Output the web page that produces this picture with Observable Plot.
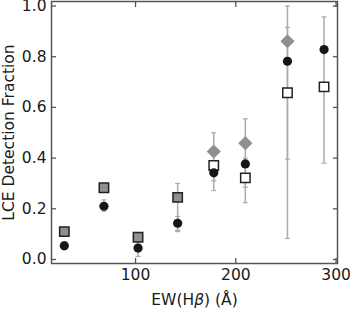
<!DOCTYPE html>
<html>
<head>
<meta charset="utf-8">
<script src="https://cdn.jsdelivr.net/npm/d3@7"></script>
<script src="https://cdn.jsdelivr.net/npm/@observablehq/plot@0.6"></script>
<style>
  html, body { margin: 0; padding: 0; background: #fff; }
  #chart svg { display: block; }
</style>
</head>
<body>
<div id="chart"></div>
<script>
// EW(Hβ) bin centres (Å)
const ew = [29, 68.5, 102.5, 142, 178, 209.5, 251.5, 288];
// black circles
const circleFrac = [0.054, 0.210, 0.045, 0.143, 0.342, 0.377, 0.782, 0.828];
// squares
const squareFrac = [0.110, 0.283, 0.088, 0.245, 0.371, 0.322, 0.658, 0.681];
const squareFilled = [true, true, true, true, false, false, false, false];
// grey diamonds
const diamondFrac = [null, null, null, null, 0.426, 0.459, 0.861, null];
// wide error bars
const errWideLo = [0.095, 0.265, 0.075, 0.110, 0.272, 0.224, 0.083, 0.380];
const errWideHi = [0.125, 0.300, 0.100, 0.300, 0.500, 0.555, 1.000, 0.957];
// narrow error bars
const errNarrowLo = [0.040, 0.190, 0.012, 0.115, 0.310, 0.285, 0.396, null];
const errNarrowHi = [0.070, 0.235, 0.070, 0.170, 0.370, 0.400, 0.916, null];

const yTicks = [0, 0.2, 0.4, 0.6, 0.8, 1.0];
const xTicks = [100, 200, 300];

const rows = ew.map((x, i) => ({
  x, c: circleFrac[i], s: squareFrac[i], sf: squareFilled[i], d: diamondFrac[i],
  wlo: errWideLo[i], whi: errWideHi[i], nlo: errNarrowLo[i], nhi: errNarrowHi[i]
}));
const wideRows = rows;
const narrowRows = rows.filter(r => r.nlo != null);
const diamondRows = rows.filter(r => r.d != null);

const cap = {
  draw(ctx, size) { const w = 2.5; ctx.moveTo(-w, 0); ctx.lineTo(w, 0); }
};

const errColor = "#ababab";
const axisColor = "#555";
const textColor = "#1a1a1a";
const fs = 15.5;

const chart = Plot.plot({
  width: 350,
  height: 310,
  marginLeft: 51,
  marginRight: 13,
  marginTop: 1,
  marginBottom: 47,
  style: { fontFamily: "DejaVu Sans", fontSize: fs + "px", color: textColor, background: "#fff" },
  x: { domain: [16.2, 301.4] },
  y: { domain: [-0.0158, 1.0178] },
  marks: [
    // error bars
    Plot.ruleX(wideRows, { x: "x", y1: "wlo", y2: "whi", stroke: errColor, strokeWidth: 1.5 }),
    Plot.dot(wideRows, { x: "x", y: "wlo", symbol: cap, stroke: errColor, strokeWidth: 1.2, r: 3 }),
    Plot.dot(wideRows, { x: "x", y: "whi", symbol: cap, stroke: errColor, strokeWidth: 1.2, r: 3 }),
    Plot.ruleX(narrowRows, { x: "x", y1: "nlo", y2: "nhi", stroke: errColor, strokeWidth: 1.5 }),
    Plot.dot(narrowRows, { x: "x", y: "nlo", symbol: cap, stroke: errColor, strokeWidth: 1.2, r: 3 }),
    Plot.dot(narrowRows, { x: "x", y: "nhi", symbol: cap, stroke: errColor, strokeWidth: 1.2, r: 3 }),
    // diamonds
    Plot.dot(diamondRows, { x: "x", y: "d", symbol: "diamond2", r: 6.4, fill: "#8f8f8f", stroke: "none" }),
    // squares
    Plot.dot(rows, { x: "x", y: "s", symbol: "square", r: 5.3,
      fill: d => d.sf ? "#8f8f8f" : "#fff", stroke: "#222", strokeWidth: 1.5 }),
    // circles
    Plot.dot(rows, { x: "x", y: "c", symbol: "circle", r: 4.6, fill: "#161616", stroke: "none" }),
    // frame
    Plot.frame({ stroke: axisColor, strokeWidth: 1.5 }),
    // axes with inward ticks
    Plot.axisY(yTicks, { anchor: "left", tickSize: -5, tickPadding: 10, stroke: axisColor, strokeWidth: 1.3,
      tickFormat: d => d.toFixed(1), fill: textColor, fontSize: fs,
      label: "LCE Detection Fraction", labelAnchor: "center", labelArrow: "none", labelOffset: 49 }),
    Plot.axisY(yTicks, { anchor: "right", tickSize: -5, stroke: axisColor, strokeWidth: 1.3,
      tickFormat: () => "", label: null }),
    Plot.axisX(xTicks, { anchor: "bottom", tickSize: -5, tickPadding: 10, stroke: axisColor, strokeWidth: 1.3,
      tickFormat: d => String(d), fill: textColor, fontSize: fs,
      label: "EW(Hβ) (Å)", labelAnchor: "center", labelArrow: "none", labelOffset: 41 }),
    Plot.axisX(xTicks, { anchor: "top", tickSize: -5, stroke: axisColor, strokeWidth: 1.3,
      tickFormat: () => "", label: null })
  ]
});

document.getElementById("chart").appendChild(chart);

// italic beta in the x-axis label
d3.select(chart).selectAll("text").each(function () {
  const t = d3.select(this);
  if (this.textContent === "EW(Hβ) (Å)") {
    t.text(null);
    t.append("tspan").text("EW(H");
    t.append("tspan").attr("font-style", "italic").text("β");
    t.append("tspan").text(") (Å)");
  }
});
</script>
</body>
</html>
